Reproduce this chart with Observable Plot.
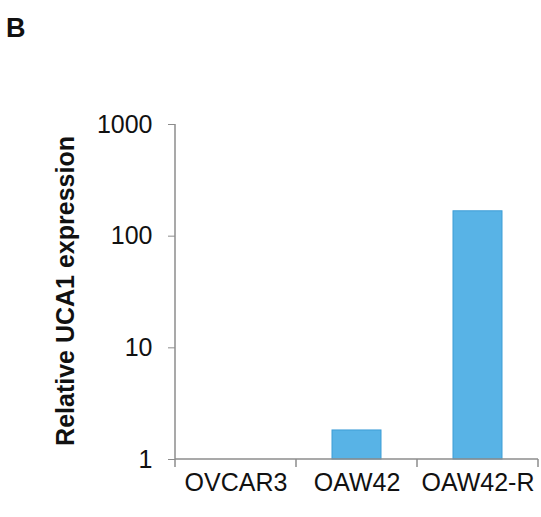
<!DOCTYPE html>
<html>
<head>
<meta charset="utf-8">
<script src="https://cdn.jsdelivr.net/npm/d3@7"></script>
<script src="https://cdn.jsdelivr.net/npm/@observablehq/plot@0.6"></script>
<style>
  html, body { margin: 0; padding: 0; background: #fff; }
  #wrap { position: relative; width: 541px; height: 517px; font-family: "Liberation Sans", Arial, sans-serif; }
  #panel { position: absolute; left: 6px; top: 15px; font-size: 27px; font-weight: bold; color: #111; line-height: 1; z-index: 2; }
  #wrap svg { position: absolute; left: 0; top: 0; }
</style>
</head>
<body>
<div id="wrap"><div id="panel">B</div></div>
<script>
const categories = ["OVCAR3", "OAW42", "OAW42-R"];
const values = [1, 1.82, 167];
const yTicks = [1, 10, 100, 1000];
const yLabel = "Relative UCA1 expression";

const data = categories.map((c, i) => ({cell: c, value: values[i]}));
const axisColor = "#8c8c8c";

const plot = Plot.plot({
  width: 541,
  height: 517,
  marginLeft: 175,
  marginRight: 3,
  marginTop: 124,
  marginBottom: 58,
  style: {fontFamily: "'Liberation Sans', Arial, sans-serif", fontSize: "25px", color: "#111", background: "transparent", overflow: "visible"},
  x: {domain: categories, padding: 0, label: null},
  y: {type: "log", domain: [1, 1000], label: null},
  marks: [
    Plot.barY(data, {x: "cell", y1: 1, y2: "value", fill: "#58b3e6", stroke: "#3d9dd6", strokeWidth: 1, insetLeft: 36, insetRight: 36}),
    Plot.axisY({ticks: yTicks, tickFormat: d => String(d), tickSize: 7, tickPadding: 16, stroke: axisColor, fill: "#111", fontSize: 25, label: null}),
    Plot.axisX({tickSize: 0, tickPadding: 14, fill: "#111", fontSize: 25, label: null}),
    Plot.text([yLabel], {text: d => d, frameAnchor: "left", rotate: -90, textAnchor: "middle", dx: -110, dy: -1, fontWeight: "bold", fontSize: 25, fill: "#111"})
  ]
});

document.getElementById("wrap").appendChild(plot);

// Excel-style axis lines and category boundary ticks, from Plot's own scales
const xs = plot.scale("x");
const ys = plot.scale("y");
const edges = categories.map(c => xs.apply(c)).concat([xs.apply(categories[categories.length - 1]) + xs.bandwidth]);
const y0 = ys.apply(1), yTop = ys.apply(1000);
const g = d3.select(plot).append("g").attr("stroke", axisColor).attr("stroke-width", 1.5).attr("fill", "none");
g.append("line").attr("x1", edges[0]).attr("x2", edges[0]).attr("y1", yTop).attr("y2", y0);
g.append("line").attr("x1", edges[0]).attr("x2", edges[edges.length - 1]).attr("y1", y0).attr("y2", y0);
edges.forEach(e => g.append("line").attr("x1", e).attr("x2", e).attr("y1", y0).attr("y2", y0 + 8));
</script>
</body>
</html>
